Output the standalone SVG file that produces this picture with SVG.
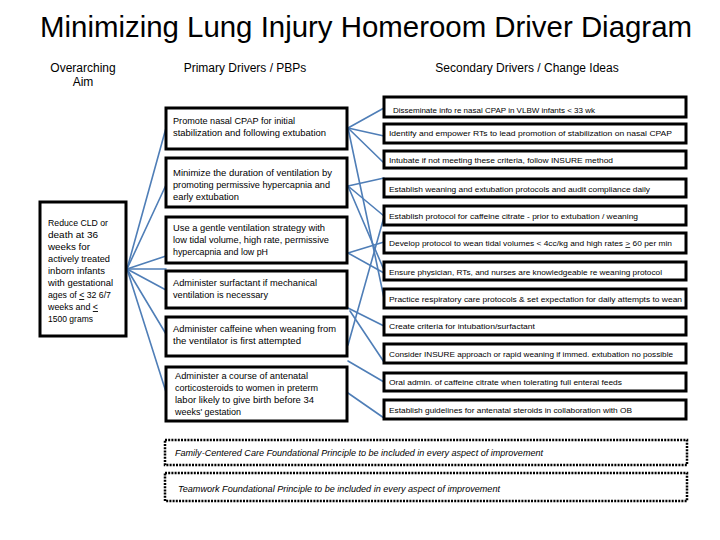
<svg xmlns="http://www.w3.org/2000/svg" width="720" height="540" viewBox="0 0 720 540">
<defs>
<style>
text{font-family:"Liberation Sans","DejaVu Sans",Arial,sans-serif;fill:#000}
.title{font-size:30px}
.hdr{font-size:12px;text-anchor:middle}
.box{fill:#fff;stroke:#000;stroke-width:3}
.fbox{fill:#fff;stroke:#000;stroke-width:2.5;stroke-dasharray:2 1.2}
.pt{font-size:9.5px}
.at{font-size:9px}
.st{font-size:7.6px}
.ft{font-size:8.4px;font-style:italic}
.c{stroke:#4f7eb7;stroke-width:1.6;fill:none;stroke-linecap:round}
</style>
</defs>
<rect width="720" height="540" fill="#fff"/>
<text class="title" x="40" y="37" textLength="652" lengthAdjust="spacingAndGlyphs">Minimizing Lung Injury Homeroom Driver Diagram</text>
<text class="hdr" x="83" y="72">Overarching</text>
<text class="hdr" x="83" y="86">Aim</text>
<text class="hdr" x="245" y="72">Primary Drivers / PBPs</text>
<text class="hdr" x="527" y="72">Secondary Drivers / Change Ideas</text>

<g id="connectors">
<line class="c" x1="127" y1="269" x2="166" y2="128"/>
<line class="c" x1="127" y1="269" x2="166" y2="185"/>
<line class="c" x1="127" y1="269" x2="166" y2="256"/>
<line class="c" x1="127" y1="269" x2="166" y2="269"/>
<line class="c" x1="127" y1="269" x2="166" y2="290"/>
<line class="c" x1="127" y1="269" x2="166" y2="334"/>
<line class="c" x1="127" y1="269" x2="166" y2="392"/>
<line class="c" x1="348" y1="128" x2="384" y2="108"/>
<line class="c" x1="348" y1="128" x2="384" y2="136"/>
<line class="c" x1="348" y1="128" x2="384" y2="163"/>
<line class="c" x1="348" y1="128" x2="384" y2="298"/>
<line class="c" x1="348" y1="186" x2="384" y2="178"/>
<line class="c" x1="348" y1="186" x2="384" y2="216"/>
<line class="c" x1="348" y1="186" x2="384" y2="270"/>
<line class="c" x1="348" y1="253" x2="384" y2="242"/>
<line class="c" x1="348" y1="253" x2="384" y2="273"/>
<line class="c" x1="348" y1="308" x2="384" y2="326"/>
<line class="c" x1="350" y1="311" x2="384" y2="362"/>
<line class="c" x1="348" y1="345" x2="384" y2="217"/>
<line class="c" x1="348" y1="361" x2="384" y2="382"/>
<line class="c" x1="348" y1="393" x2="384" y2="418"/>
</g>

<g id="aim">
<rect class="box" x="40" y="202" width="86" height="134"/>
<text class="at" x="48" y="226" textLength="60" lengthAdjust="spacingAndGlyphs">Reduce CLD or</text>
<text class="at" x="48" y="238" textLength="50" lengthAdjust="spacingAndGlyphs">death at 36</text>
<text class="at" x="48" y="250" textLength="42" lengthAdjust="spacingAndGlyphs">weeks for</text>
<text class="at" x="48" y="262" textLength="62" lengthAdjust="spacingAndGlyphs">actively treated</text>
<text class="at" x="48" y="274" textLength="57" lengthAdjust="spacingAndGlyphs">inborn infants</text>
<text class="at" x="48" y="286" textLength="65" lengthAdjust="spacingAndGlyphs">with gestational</text>
<text class="at" x="48" y="298" textLength="63" lengthAdjust="spacingAndGlyphs">ages of <tspan text-decoration="underline">&lt;</tspan> 32 6/7</text>
<text class="at" x="48" y="310" textLength="50" lengthAdjust="spacingAndGlyphs">weeks and <tspan text-decoration="underline">&lt;</tspan></text>
<text class="at" x="48" y="322" textLength="45" lengthAdjust="spacingAndGlyphs">1500 grams</text>
</g>

<g id="p1">
<rect class="box" x="166" y="108" width="181" height="41"/>
<text class="pt" x="173" y="124" textLength="122" lengthAdjust="spacingAndGlyphs">Promote nasal CPAP for initial</text>
<text class="pt" x="173" y="136" textLength="153" lengthAdjust="spacingAndGlyphs">stabilization and following extubation</text>
</g>
<g id="p2">
<rect class="box" x="166" y="158" width="181" height="49"/>
<text class="pt" x="173" y="176" textLength="159" lengthAdjust="spacingAndGlyphs">Minimize the duration of ventilation by</text>
<text class="pt" x="173" y="188" textLength="157" lengthAdjust="spacingAndGlyphs">promoting permissive hypercapnia and</text>
<text class="pt" x="173" y="200" textLength="66" lengthAdjust="spacingAndGlyphs">early extubation</text>
</g>
<g id="p3">
<rect class="box" x="166" y="217" width="181" height="46"/>
<text class="pt" x="173" y="231" textLength="152" lengthAdjust="spacingAndGlyphs">Use a gentle ventilation strategy with</text>
<text class="pt" x="173" y="243" textLength="156" lengthAdjust="spacingAndGlyphs">low tidal volume, high rate, permissive</text>
<text class="pt" x="173" y="255" textLength="95" lengthAdjust="spacingAndGlyphs">hypercapnia and low pH</text>
</g>
<g id="p4">
<rect class="box" x="166" y="271" width="181" height="37"/>
<text class="pt" x="173" y="286" textLength="144" lengthAdjust="spacingAndGlyphs">Administer surfactant if mechanical</text>
<text class="pt" x="173" y="298" textLength="95" lengthAdjust="spacingAndGlyphs">ventilation is necessary</text>
</g>
<g id="p5">
<rect class="box" x="166" y="317" width="181" height="39"/>
<text class="pt" x="173" y="332" textLength="163" lengthAdjust="spacingAndGlyphs">Administer caffeine when weaning from</text>
<text class="pt" x="173" y="344" textLength="128" lengthAdjust="spacingAndGlyphs">the ventilator is first attempted</text>
</g>
<g id="p6">
<rect class="box" x="166" y="367" width="181" height="54"/>
<text class="pt" x="175" y="379" textLength="133" lengthAdjust="spacingAndGlyphs">Administer a course of antenatal</text>
<text class="pt" x="175" y="391" textLength="143" lengthAdjust="spacingAndGlyphs">corticosteroids to women in preterm</text>
<text class="pt" x="175" y="403" textLength="139" lengthAdjust="spacingAndGlyphs">labor likely to give birth before 34</text>
<text class="pt" x="175" y="415" textLength="66" lengthAdjust="spacingAndGlyphs">weeks' gestation</text>
</g>

<g id="s1"><rect class="box" x="384" y="97" width="302" height="20"/><text class="st" x="393" y="113" textLength="202" lengthAdjust="spacingAndGlyphs">Disseminate info re nasal CPAP in VLBW infants &lt; 33 wk</text></g>
<g id="s2"><rect class="box" x="384" y="124" width="302" height="19"/><text class="st" x="389" y="136" textLength="283" lengthAdjust="spacingAndGlyphs">Identify and empower RTs to lead promotion of stabilization on nasal CPAP</text></g>
<g id="s3"><rect class="box" x="384" y="151" width="302" height="17"/><text class="st" x="389" y="163" textLength="224" lengthAdjust="spacingAndGlyphs">Intubate if not meeting these criteria, follow INSURE method</text></g>
<g id="s4"><rect class="box" x="384" y="179" width="302" height="18"/><text class="st" x="389" y="192" textLength="261" lengthAdjust="spacingAndGlyphs">Establish weaning and  extubation protocols and audit compliance daily</text></g>
<g id="s5"><rect class="box" x="384" y="206" width="302" height="19"/><text class="st" x="389" y="219" textLength="249" lengthAdjust="spacingAndGlyphs">Establish protocol for caffeine citrate - prior to extubation / weaning</text></g>
<g id="s6"><rect class="box" x="384" y="233" width="302" height="20"/><text class="st" x="389" y="246" textLength="283" lengthAdjust="spacingAndGlyphs">Develop protocol to wean tidal volumes &lt; 4cc/kg and high rates <tspan text-decoration="underline">&gt;</tspan> 60 per min</text></g>
<g id="s7"><rect class="box" x="384" y="262" width="302" height="18"/><text class="st" x="389" y="275" textLength="273" lengthAdjust="spacingAndGlyphs">Ensure physician, RTs, and nurses are knowledgeable re weaning protocol</text></g>
<g id="s8"><rect class="box" x="384" y="289" width="302" height="19"/><text class="st" x="389" y="302" textLength="293" lengthAdjust="spacingAndGlyphs">Practice respiratory care protocols &amp; set expectation for daily attempts to wean</text></g>
<g id="s9"><rect class="box" x="384" y="317" width="302" height="18"/><text class="st" x="389" y="329" textLength="146" lengthAdjust="spacingAndGlyphs">Create criteria for intubation/surfactant</text></g>
<g id="s10"><rect class="box" x="384" y="344" width="302" height="19"/><text class="st" x="389" y="357" textLength="284" lengthAdjust="spacingAndGlyphs">Consider INSURE approach or rapid weaning if immed. extubation no possible</text></g>
<g id="s11"><rect class="box" x="384" y="373" width="302" height="18"/><text class="st" x="389" y="385" textLength="233" lengthAdjust="spacingAndGlyphs">Oral admin. of caffeine citrate when tolerating full enteral feeds</text></g>
<g id="s12"><rect class="box" x="384" y="400" width="302" height="19"/><text class="st" x="389" y="413" textLength="243" lengthAdjust="spacingAndGlyphs">Establish guidelines for antenatal steroids in collaboration with OB</text></g>

<g id="f1"><rect class="fbox" x="165" y="440" width="522" height="25"/><text class="ft" x="175" y="456" textLength="368" lengthAdjust="spacingAndGlyphs">Family-Centered Care Foundational Principle to be included in every aspect of improvement</text></g>
<g id="f2"><rect class="fbox" x="165" y="473" width="522" height="28"/><text class="ft" x="178" y="492" textLength="322" lengthAdjust="spacingAndGlyphs">Teamwork Foundational Principle to be included in every aspect of improvement</text></g>
</svg>
